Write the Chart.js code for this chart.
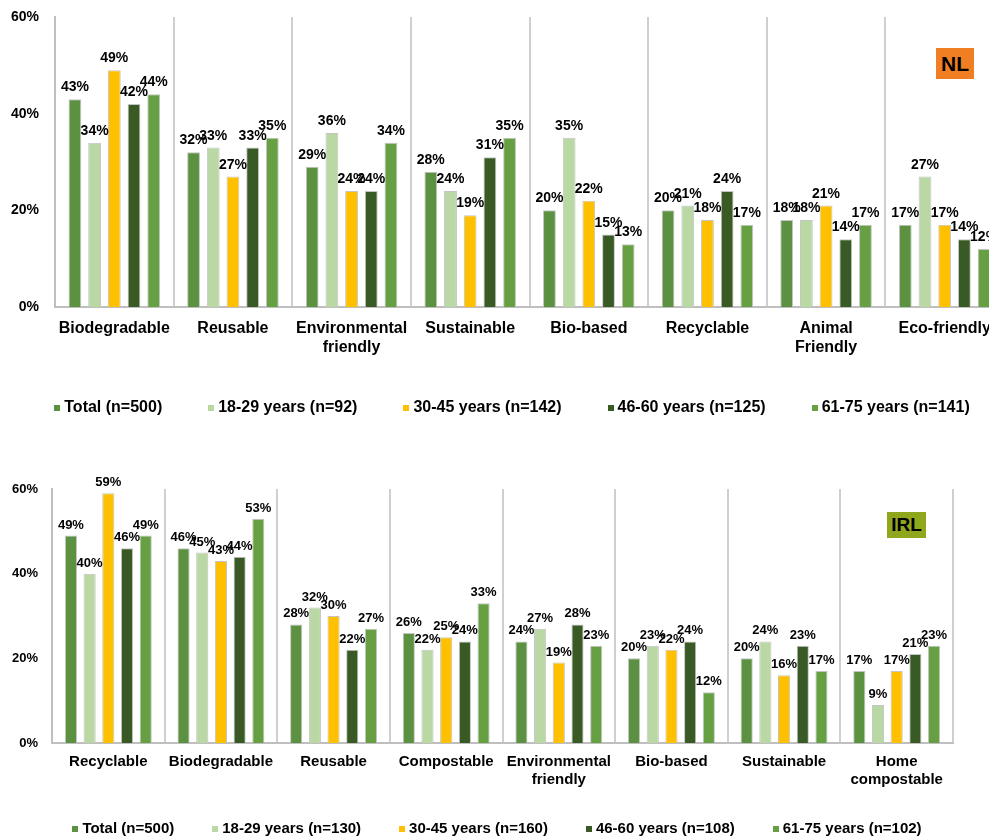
<!DOCTYPE html>
<html>
<head>
<meta charset="utf-8">
<script src="https://cdn.jsdelivr.net/npm/chart.js@4.4.1/dist/chart.umd.min.js"></script>
<style>
  html, body { margin: 0; padding: 0; background: #ffffff; overflow: hidden; width: 989px; height: 840px; }
  .panel { position: absolute; left: 0; }
  .badge { position: absolute; font-family: "Liberation Sans", Arial, sans-serif; font-weight: bold; color: #000;
           display: flex; align-items: center; justify-content: center; box-sizing: border-box; }
</style>
</head>
<body>
<div class="panel" style="top:0;"><canvas id="nlChart" width="1010" height="430"></canvas></div>
<div class="panel" style="top:470px;"><canvas id="irlChart" width="989" height="380"></canvas></div>
<div class="badge" style="left:936px;top:48px;width:38px;height:31px;background:#ef7f22;font-size:21px;">NL</div>
<div class="badge" style="left:887px;top:512px;width:39px;height:26px;background:#8fa71c;font-size:19px;">IRL</div>

<script>
// ---- Netherlands ----
const nlCategories = ['Biodegradable', 'Reusable', ['Environmental', 'friendly'], 'Sustainable',
                      'Bio-based', 'Recyclable', ['Animal', 'Friendly'], 'Eco-friendly'];
const nlSeriesNames = ['Total (n=500)', '18-29 years (n=92)', '30-45 years (n=142)',
                       '46-60 years (n=125)', '61-75 years (n=141)'];
const nlTotal = [43, 32, 29, 28, 20, 20, 18, 17];
const nl1829  = [34, 33, 36, 24, 35, 21, 18, 27];
const nl3045  = [49, 27, 24, 19, 22, 18, 21, 17];
const nl4660  = [42, 33, 24, 31, 15, 24, 14, 14];
const nl6175  = [44, 35, 34, 35, 13, 17, 17, 12];

// ---- Ireland ----
const irlCategories = ['Recyclable', 'Biodegradable', 'Reusable', 'Compostable',
                       ['Environmental', 'friendly'], 'Bio-based', 'Sustainable', ['Home', 'compostable']];
const irlSeriesNames = ['Total (n=500)', '18-29 years (n=130)', '30-45 years (n=160)',
                        '46-60 years (n=108)', '61-75 years (n=102)'];
const irlTotal = [49, 46, 28, 26, 24, 20, 20, 17];
const irl1829  = [40, 45, 32, 22, 27, 23, 24, 9];
const irl3045  = [59, 43, 30, 25, 19, 22, 16, 17];
const irl4660  = [46, 44, 22, 24, 28, 24, 23, 21];
const irl6175  = [49, 53, 27, 33, 23, 12, 17, 23];

const yTicks = [0, 20, 40, 60];

const seriesColors = ['#5b9140', '#b9d8a3', '#ffc000', '#395a25', '#66a043'];
const FONT = '"Liberation Sans", Arial, sans-serif';
Chart.defaults.font.family = FONT;
Chart.defaults.color = '#000000';

// value labels above each bar
const valueLabels = {
  id: 'valueLabels',
  afterDatasetsDraw(chart, args, opts) {
    const ctx = chart.ctx;
    ctx.save();
    ctx.font = 'bold ' + opts.size + 'px ' + FONT;
    ctx.fillStyle = '#000000';
    ctx.textAlign = 'center';
    ctx.textBaseline = 'alphabetic';
    chart.data.datasets.forEach((ds, di) => {
      const meta = chart.getDatasetMeta(di);
      meta.data.forEach((bar, i) => {
        ctx.fillText(ds.data[i] + '%', bar.x, bar.y - opts.gap);
      });
    });
    ctx.restore();
  }
};

// compact one-row legend: small square, tight gap, label text
const boxLegend = {
  id: 'boxLegend',
  afterDraw(chart, args, opts) {
    const ctx = chart.ctx;
    ctx.save();
    ctx.font = 'bold ' + opts.size + 'px ' + FONT;
    ctx.textBaseline = 'middle';
    ctx.textAlign = 'left';
    const items = chart.data.datasets.map(ds => ({
      text: ds.label, color: ds.backgroundColor, w: ctx.measureText(ds.label).width
    }));
    const total = items.reduce((s, it) => s + opts.box + opts.gap + it.w, 0) + opts.spacing * (items.length - 1);
    let x = opts.centerX - total / 2;
    items.forEach(it => {
      ctx.fillStyle = it.color;
      ctx.fillRect(Math.round(x), Math.round(opts.y - opts.box / 2), opts.box, opts.box);
      ctx.fillStyle = '#000000';
      ctx.fillText(it.text, x + opts.box + opts.gap, opts.y);
      x += opts.box + opts.gap + it.w + opts.spacing;
    });
    ctx.restore();
  }
};

function makeDatasets(names, series) {
  return series.map((values, k) => ({
    label: names[k],
    data: values,
    backgroundColor: seriesColors[k],
    borderColor: '#c4c4c4',
    borderWidth: 1,
    categoryPercentage: 0.83,
    barPercentage: 0.65
  }));
}

function buildChart(id, categories, names, series, cfg) {
  return new Chart(document.getElementById(id), {
    type: 'bar',
    data: { labels: categories, datasets: makeDatasets(names, series) },
    plugins: [valueLabels, boxLegend],
    options: {
      responsive: false,
      animation: false,
      events: [],
      layout: { padding: { left: 0, top: cfg.padTop, right: cfg.padRight, bottom: cfg.padBottom } },
      scales: {
        x: {
          grid: { display: true, offset: true, drawTicks: false, color: '#cfcfcf', lineWidth: 2 },
          border: { display: true, color: '#bfbfbf', width: 2 },
          ticks: { font: { size: cfg.xFont, weight: 'bold' }, padding: cfg.xPad, color: '#000', maxRotation: 0, autoSkip: false },
          afterFit(scale) { scale.height = cfg.xHeight; }
        },
        y: {
          min: 0, max: 60,
          afterBuildTicks(scale) { scale.ticks = yTicks.map(v => ({ value: v })); },
          // hidden tick marks keep the labels clear of the axis line
          grid: { display: false, drawTicks: true, tickLength: cfg.yPad },
          border: { display: true, color: '#bfbfbf', width: 2 },
          ticks: { font: { size: cfg.yFont, weight: 'bold' }, padding: 0, color: '#000',
                   callback: v => v + '%' },
          afterFit(scale) { scale.width = cfg.yWidth; }
        }
      },
      plugins: {
        tooltip: { enabled: false },
        legend: { display: false },
        valueLabels: { size: cfg.labelFont, gap: cfg.labelGap },
        boxLegend: { size: cfg.legendFont, box: 6, gap: 4, spacing: cfg.legendSpacing,
                     centerX: cfg.legendX, y: cfg.legendY }
      }
    }
  });
}

buildChart('nlChart', nlCategories, nlSeriesNames, [nlTotal, nl1829, nl3045, nl4660, nl6175], {
  padTop: 17, padRight: 6, padBottom: 63,
  xFont: 16, xPad: 12, xHeight: 60,
  yFont: 14, yPad: 16, yWidth: 55,
  labelFont: 14, labelGap: 8,
  legendFont: 16, legendSpacing: 46, legendX: 512, legendY: 408
});

buildChart('irlChart', irlCategories, irlSeriesNames, [irlTotal, irl1829, irl3045, irl4660, irl6175], {
  padTop: 19, padRight: 36, padBottom: 57,
  xFont: 15, xPad: 10, xHeight: 50,
  yFont: 13, yPad: 14, yWidth: 52,
  labelFont: 13, labelGap: 7,
  legendFont: 15, legendSpacing: 38, legendX: 497, legendY: 359
});
</script>
</body>
</html>
